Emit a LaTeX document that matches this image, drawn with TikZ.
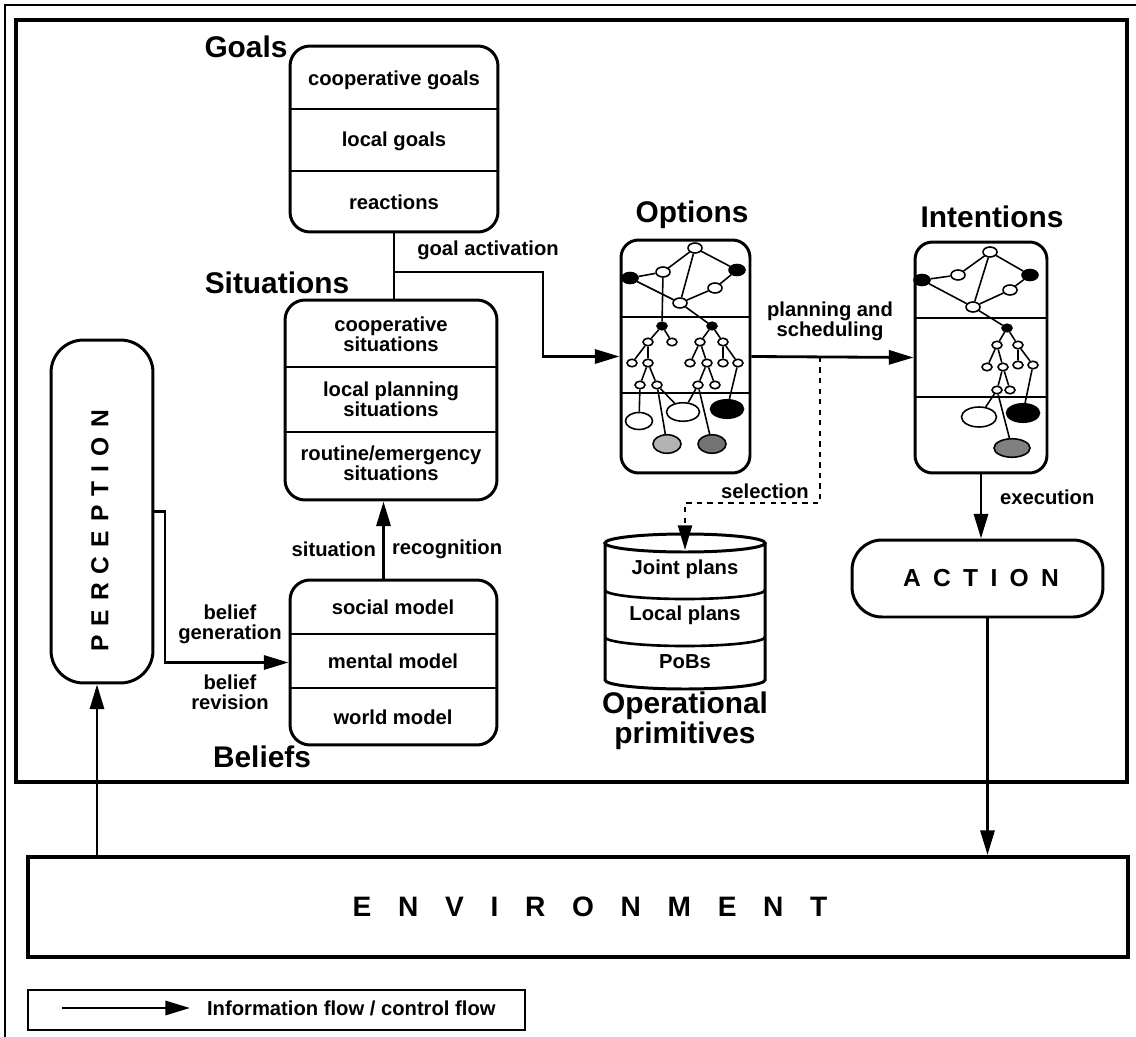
\documentclass[tikz,border=0pt]{standalone}
\usepackage{fontspec}
\setmainfont{Liberation Sans}
\usetikzlibrary{arrows.meta}
\usetikzlibrary{calc}
\usetikzlibrary{shapes.geometric}

\begin{document}
\begin{tikzpicture}[x=0.02cm,y=-0.02cm,
    stack/.style={draw, line width=1.7pt, rounded corners=0.4cm, inner sep=0pt},
    lbl/.style={font=\fontsize{11.5}{11.5}\selectfont\bfseries, align=center, inner sep=1pt},
    ttl/.style={font=\fontsize{17}{17}\selectfont\bfseries, align=center, inner sep=0pt},
    flow/.style={line width=1.6pt, -{Triangle[length=14pt,width=8pt]}},
    link/.style={line width=1.6pt},
    divider/.style={line width=1.5pt},
    wn/.style={ellipse, draw, fill=white, line width=0.9pt, inner sep=0pt, minimum width=0.28cm, minimum height=0.2cm},
    bn/.style={wn, fill=black, minimum width=0.32cm, minimum height=0.22cm},
    sw/.style={wn, minimum width=0.2cm, minimum height=0.15cm},
    sb/.style={sw, fill=black},
    leaf/.style={ellipse, draw, line width=0.9pt, inner sep=0pt, minimum width=0.66cm, minimum height=0.37cm},
    edge/.style={line width=0.9pt}
  ]
  \useasboundingbox (0,0) rectangle (1136,1037);

  % page and frame
  \draw[line width=0.8pt] (5,1037) -- (5,5) -- (1136,5);
  \draw[line width=2.3pt] (16,20) rectangle (1127,782);

  % goals
  \node[stack, minimum width=4.16cm, minimum height=3.72cm] (goals) at (394,139) {};
  \draw[divider] (goals.west |- 0,109) -- (goals.east |- 0,109);
  \draw[divider] (goals.west |- 0,171) -- (goals.east |- 0,171);
  \node[lbl] (cgoals) at (394,80) {cooperative goals};
  \node[lbl] (lgoals) at (394,141) {local goals};
  \node[lbl] (react) at (394,202) {reactions};
  \node[ttl] (goalsT) at (246,47) {Goals};

  % situations
  \node[stack, minimum width=4.24cm, minimum height=4cm] (situations) at (391,400) {};
  \draw[divider] (situations.west |- 0,367) -- (situations.east |- 0,367);
  \draw[divider] (situations.west |- 0,432) -- (situations.east |- 0,432);
  \node[lbl] (csit) at (391,334) {cooperative\\situations};
  \node[lbl] (lsit) at (391,399) {local planning\\situations};
  \node[lbl] (rsit) at (391,463) {routine/emergency\\situations};
  \node[ttl] (situationsT) at (277,283) {Situations};

  % beliefs
  \node[stack, minimum width=4.14cm, minimum height=3.3cm] (beliefs) at (393.5,662.5) {};
  \draw[divider] (beliefs.west |- 0,634) -- (beliefs.east |- 0,634);
  \draw[divider] (beliefs.west |- 0,688) -- (beliefs.east |- 0,688);
  \node[lbl] (smodel) at (393,607) {social model};
  \node[lbl] (mmodel) at (393,661) {mental model};
  \node[lbl] (wmodel) at (393,717) {world model};
  \node[ttl] (beliefsT) at (262,757) {Beliefs};

  % perception
  \node[stack, rounded corners=0.65cm, minimum width=2.04cm, minimum height=6.86cm] (perception) at (102,511.5) {};
  \node[rotate=90, font=\fontsize{14}{14}\selectfont\bfseries\addfontfeatures{LetterSpace=37}] (percT) at (100,531) {PERCEPTION};

  % options
  \node[stack, rounded corners=0.35cm, minimum width=2.58cm, minimum height=4.66cm] (options) at (685.5,356.5) {};
  \draw[divider] (options.west |- 0,317) -- (options.east |- 0,317);
  \draw[divider] (options.west |- 0,393) -- (options.east |- 0,393);
  \node[ttl] (optionsT) at (692,215) {Options};

  % intentions
  \node[stack, rounded corners=0.35cm, minimum width=2.64cm, minimum height=4.62cm] (intentions) at (981,357.5) {};
  \draw[divider] (intentions.west |- 0,318) -- (intentions.east |- 0,318);
  \draw[divider] (intentions.west |- 0,397) -- (intentions.east |- 0,397);
  \node[ttl] (intentionsT) at (992,217) {Intentions};

  % trees in options
  \node[wn] (ot) at (695,248) {};
  \node[bn] (obl) at (630,278) {};
  \node[wn] (owl) at (663,272) {};
  \node[bn] (obr) at (737,270) {};
  \node[wn] (owr) at (715,288) {};
  \node[wn] (ob) at (680,303) {};
  \draw[edge] (ot) -- (owl) -- (obl) -- (ob) -- (ot) -- (obr) -- (owr) -- (ob);
  \node[sb] (oml) at (662,326) {};
  \node[sw] (oa1) at (648,342) {};
  \node[sw] (oa2) at (672,342) {};
  \node[sw] (oa3) at (632,363) {};
  \node[sw] (oa4) at (648,363) {};
  \node[sw] (oa5) at (640,385) {};
  \node[sw] (oa6) at (657,385) {};
  \node[sb] (omr) at (712,326) {};
  \node[sw] (ob1) at (700,342) {};
  \node[sw] (ob2) at (723,342) {};
  \node[sw] (ob3) at (690,363) {};
  \node[sw] (ob4) at (707,363) {};
  \node[sw] (ob5) at (723,363) {};
  \node[sw] (ob6) at (738,363) {};
  \node[sw] (ob7) at (698,385) {};
  \node[sw] (ob8) at (715,385) {};
  \node[leaf, fill=white, minimum width=0.54cm, minimum height=0.34cm] (oe1) at (639,421) {};
  \node[leaf, fill=white] (oe2) at (683,412) {};
  \node[leaf, fill=black] (oe3) at (727,409) {};
  \node[leaf, fill=black!30, minimum width=0.56cm] (oe4) at (667,444) {};
  \node[leaf, fill=black!55, minimum width=0.56cm] (oe5) at (712,444) {};
  \draw[edge] (owl) -- (oml);
  \draw[edge] (ob) -- (omr);
  \draw[edge] (oa2) -- (oml) -- (oa1) -- (oa3);
  \draw[edge] (oa1) -- (oa4) -- (oa5) -- (oe1);
  \draw[edge] (oa4) -- (oa6) -- (oe4);
  \draw[edge] (oa6) -- (oe2) -- (ob7);
  \draw[edge] (ob2) -- (omr) -- (ob1) -- (ob3);
  \draw[edge] (ob1) -- (ob4) -- (ob7) -- (oe5);
  \draw[edge] (ob4) -- (ob8);
  \draw[edge] (ob5) -- (ob2) -- (ob6) -- (oe3);

  % trees in intentions
  \node[wn] (it) at (990,252) {};
  \node[bn] (ibl) at (922,280) {};
  \node[wn] (iwl) at (958,275) {};
  \node[bn] (ibr) at (1030,275) {};
  \node[wn] (iwr) at (1010,290) {};
  \node[wn] (ib) at (973,307) {};
  \draw[edge] (it) -- (iwl) -- (ibl) -- (ib) -- (it) -- (ibr) -- (iwr) -- (ib);
  \node[sb] (imb) at (1007,328) {};
  \node[sw] (ic1) at (997,345) {};
  \node[sw] (ic2) at (1018,345) {};
  \node[sw] (ic3) at (987,367) {};
  \node[sw] (ic4) at (1003,367) {};
  \node[sw] (ic5) at (1018,365) {};
  \node[sw] (ic6) at (1033,365) {};
  \node[sw] (ic7) at (997,390) {};
  \node[sw] (ic8) at (1010,390) {};
  \node[leaf, fill=white, minimum width=0.7cm, minimum height=0.4cm] (if1) at (979,417) {};
  \node[leaf, fill=black] (if2) at (1023,413) {};
  \node[leaf, fill=black!50, minimum width=0.72cm] (if3) at (1012,448) {};
  \draw[edge] (ib) -- (imb);
  \draw[edge] (ic2) -- (imb) -- (ic1) -- (ic3);
  \draw[edge] (ic1) -- (ic4) -- (ic7) -- (if1);
  \draw[edge] (ic4) -- (ic8);
  \draw[edge] (ic7) -- (if3);
  \draw[edge] (ic5) -- (ic2) -- (ic6) -- (if2);

  % operational primitives
  \draw[line width=1.7pt, fill=white] (605,543) -- (605,680) arc[start angle=180, end angle=0, x radius=80, y radius=9] -- (765,543);
  \draw[line width=1.7pt] (685,543) ellipse[x radius=80, y radius=9];
  \draw[divider] (605,590) arc[start angle=180, end angle=0, x radius=80, y radius=9];
  \draw[divider] (605,637) arc[start angle=180, end angle=0, x radius=80, y radius=9];
  \coordinate (primtop) at (685,550);
  \node[lbl] (joint) at (685,569) {Joint plans};
  \node[lbl] (local) at (685,615) {Local plans};
  \node[lbl] (pobs) at (685,662) {PoBs};
  \node[ttl] (primsT) at (685,721) {Operational\\primitives};

  % action and environment
  \node[stack, rounded corners=0.6cm, minimum width=5.02cm, minimum height=1.54cm] (action) at (977.5,578.5) {};
  \node[font=\fontsize{14}{14}\selectfont\bfseries\addfontfeatures{LetterSpace=50}] (actionT) at (981,578) {ACTION};
  \node[draw, line width=2.3pt, minimum width=22cm, minimum height=2cm, inner sep=0pt] (env) at (578,907) {};
  \node[font=\fontsize{16}{16}\selectfont\bfseries\addfontfeatures{LetterSpace=95}] (envT) at (590,907) {ENVIRONMENT};

  % connectors
  \draw[link] (goals.south) -- (goals.south |- situations.north);
  \coordinate (act) at (goals.south |- 0,272);
  \draw[flow] (act) -- (543,272) |- (options.west);
  \node[lbl] (actL) at (488,250) {goal activation};

  \draw[flow] ([xshift=-0.2cm]beliefs.north) -- ([xshift=-0.2cm]beliefs.north |- situations.south);
  \node[lbl, anchor=east] (recL) at (378,549) {situation};
  \node[lbl, anchor=west] (recR) at (390,549) {recognition};

  \draw[flow] (perception.east) -- (165,511.5) |- (beliefs.west);
  \node[lbl] (genL) at (230,624) {belief\\generation};
  \node[lbl] (revL) at (230,692) {belief\\revision};

  \draw[flow] (options.east) -- (intentions.west);
  \node[lbl] (planL) at (830,321) {planning and\\scheduling};
  \coordinate (sel) at ($(options.east)!0.42!(intentions.west)$);
  \draw[flow, dashed, line width=1.1pt] (sel) -- (sel |- 0,503) -| (primtop);
  \node[lbl] (selL) at (765,491) {selection};

  \draw[flow] (intentions.south) -- (intentions.south |- action.north);
  \node[lbl, anchor=west] (exeL) at (998,497) {execution};
  \draw[flow] ([xshift=0.2cm]action.south) -- ([xshift=0.2cm]action.south |- env.north);
  \draw[flow] ([xshift=-0.1cm]perception.south |- env.north) -- ([xshift=-0.1cm]perception.south);

  % legend
  \node[draw, line width=1.5pt, minimum width=9.94cm, minimum height=0.8cm, inner sep=0pt] (legend) at (276.5,1010) {};
  \coordinate (lgA) at (62,1008);
  \coordinate (lgB) at (190,1008);
  \draw[flow] (lgA) -- (lgB);
  \node[lbl, anchor=west] (legendT) at (205,1008) {Information flow / control flow};
\end{tikzpicture}
\end{document}
